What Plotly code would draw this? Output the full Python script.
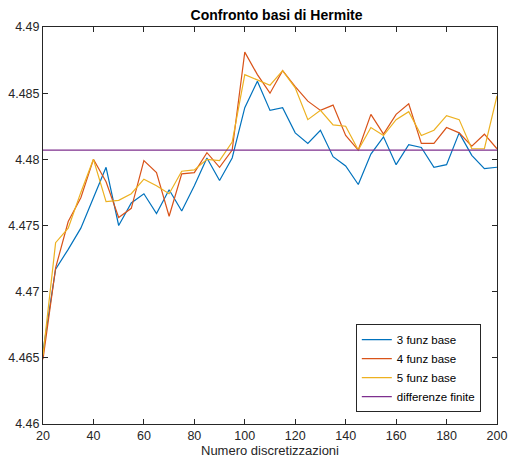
import plotly.graph_objects as go

# Number of discretizations
n_disc = list(range(20, 201, 5))

# Computed values for each Hermite basis size
funz3 = [4.4655, 4.4717, 4.4732, 4.4748, 4.4771, 4.4794, 4.4750, 4.4767, 4.4774, 4.4759,
         4.4777, 4.4761, 4.4780, 4.4801, 4.4784, 4.4801, 4.4839, 4.4859, 4.4837, 4.4839,
         4.4820, 4.4812, 4.4822, 4.4802, 4.4795, 4.4781, 4.4804, 4.4817, 4.4796, 4.4811,
         4.4809, 4.4794, 4.4796, 4.4820, 4.4803, 4.4793, 4.4794]
funz4 = [4.4649, 4.4718, 4.4753, 4.4771, 4.4800, 4.4783, 4.4756, 4.4763, 4.4799, 4.4790,
         4.4757, 4.4789, 4.4790, 4.4805, 4.4794, 4.4807, 4.4881, 4.4864, 4.4850, 4.4867,
         4.4855, 4.4844, 4.4837, 4.4841, 4.4818, 4.4807, 4.4834, 4.4819, 4.4834, 4.4842,
         4.4812, 4.4812, 4.4824, 4.4820, 4.4810, 4.4819, 4.4808]
funz5 = [4.4652, 4.4737, 4.4748, 4.4775, 4.4800, 4.4768, 4.4769, 4.4774, 4.4785, 4.4780,
         4.4774, 4.4791, 4.4792, 4.4800, 4.4799, 4.4813, 4.4864, 4.4860, 4.4856, 4.4867,
         4.4854, 4.4830, 4.4837, 4.4826, 4.4825, 4.4807, 4.4824, 4.4818, 4.4830, 4.4836,
         4.4818, 4.4822, 4.4833, 4.4830, 4.4808, 4.4808, 4.4848]
# Finite-difference reference value
diff_finite = 4.4807

series = [
    ("3 funz base", funz3, "#0072BD"),
    ("4 funz base", funz4, "#D95319"),
    ("5 funz base", funz5, "#EDB120"),
]

fig = go.Figure()
for name, vals, color in series:
    fig.add_trace(go.Scatter(x=n_disc, y=vals, mode="lines", name=name,
                             line=dict(color=color, width=1.2)))
fig.add_trace(go.Scatter(x=n_disc, y=[diff_finite] * len(n_disc), mode="lines",
                         name="differenze finite",
                         line=dict(color="#7E2F8E", width=1.2)))

axis_common = dict(showline=True, linecolor="#262626", linewidth=1, mirror="ticks",
                   ticks="inside", ticklen=5, tickcolor="#262626", showgrid=False,
                   zeroline=False, ticklabeloverflow="allow",
                   tickfont=dict(size=12.5, color="#262626"))

fig.update_layout(
    width=514, height=466,
    margin=dict(l=43, r=7, t=27, b=42),
    paper_bgcolor="white", plot_bgcolor="white",
    font=dict(family="Liberation Sans, Arial, sans-serif", color="#262626"),
    title=dict(text="<b>Confronto basi di Hermite</b>", x=0.538, xanchor="center",
               y=0.968, yanchor="middle", font=dict(size=14, color="black")),
    xaxis=dict(range=[20, 200], tickvals=list(range(20, 201, 20)),
               title=dict(text="Numero discretizzazioni", font=dict(size=13), standoff=3),
               **axis_common),
    yaxis=dict(range=[4.46, 4.49],
               tickvals=[4.46, 4.465, 4.47, 4.475, 4.48, 4.485, 4.49],
               ticktext=["4.46", "4.465", "4.47", "4.475", "4.48", "4.485", "4.49"],
               **axis_common),
    legend=dict(x=0.689, xanchor="left", y=0.03, yanchor="bottom",
                bordercolor="#262626", borderwidth=1, bgcolor="white",
                font=dict(size=11.5, color="black"), tracegroupgap=0),
    showlegend=True,
)

fig.write_html("out.html")
